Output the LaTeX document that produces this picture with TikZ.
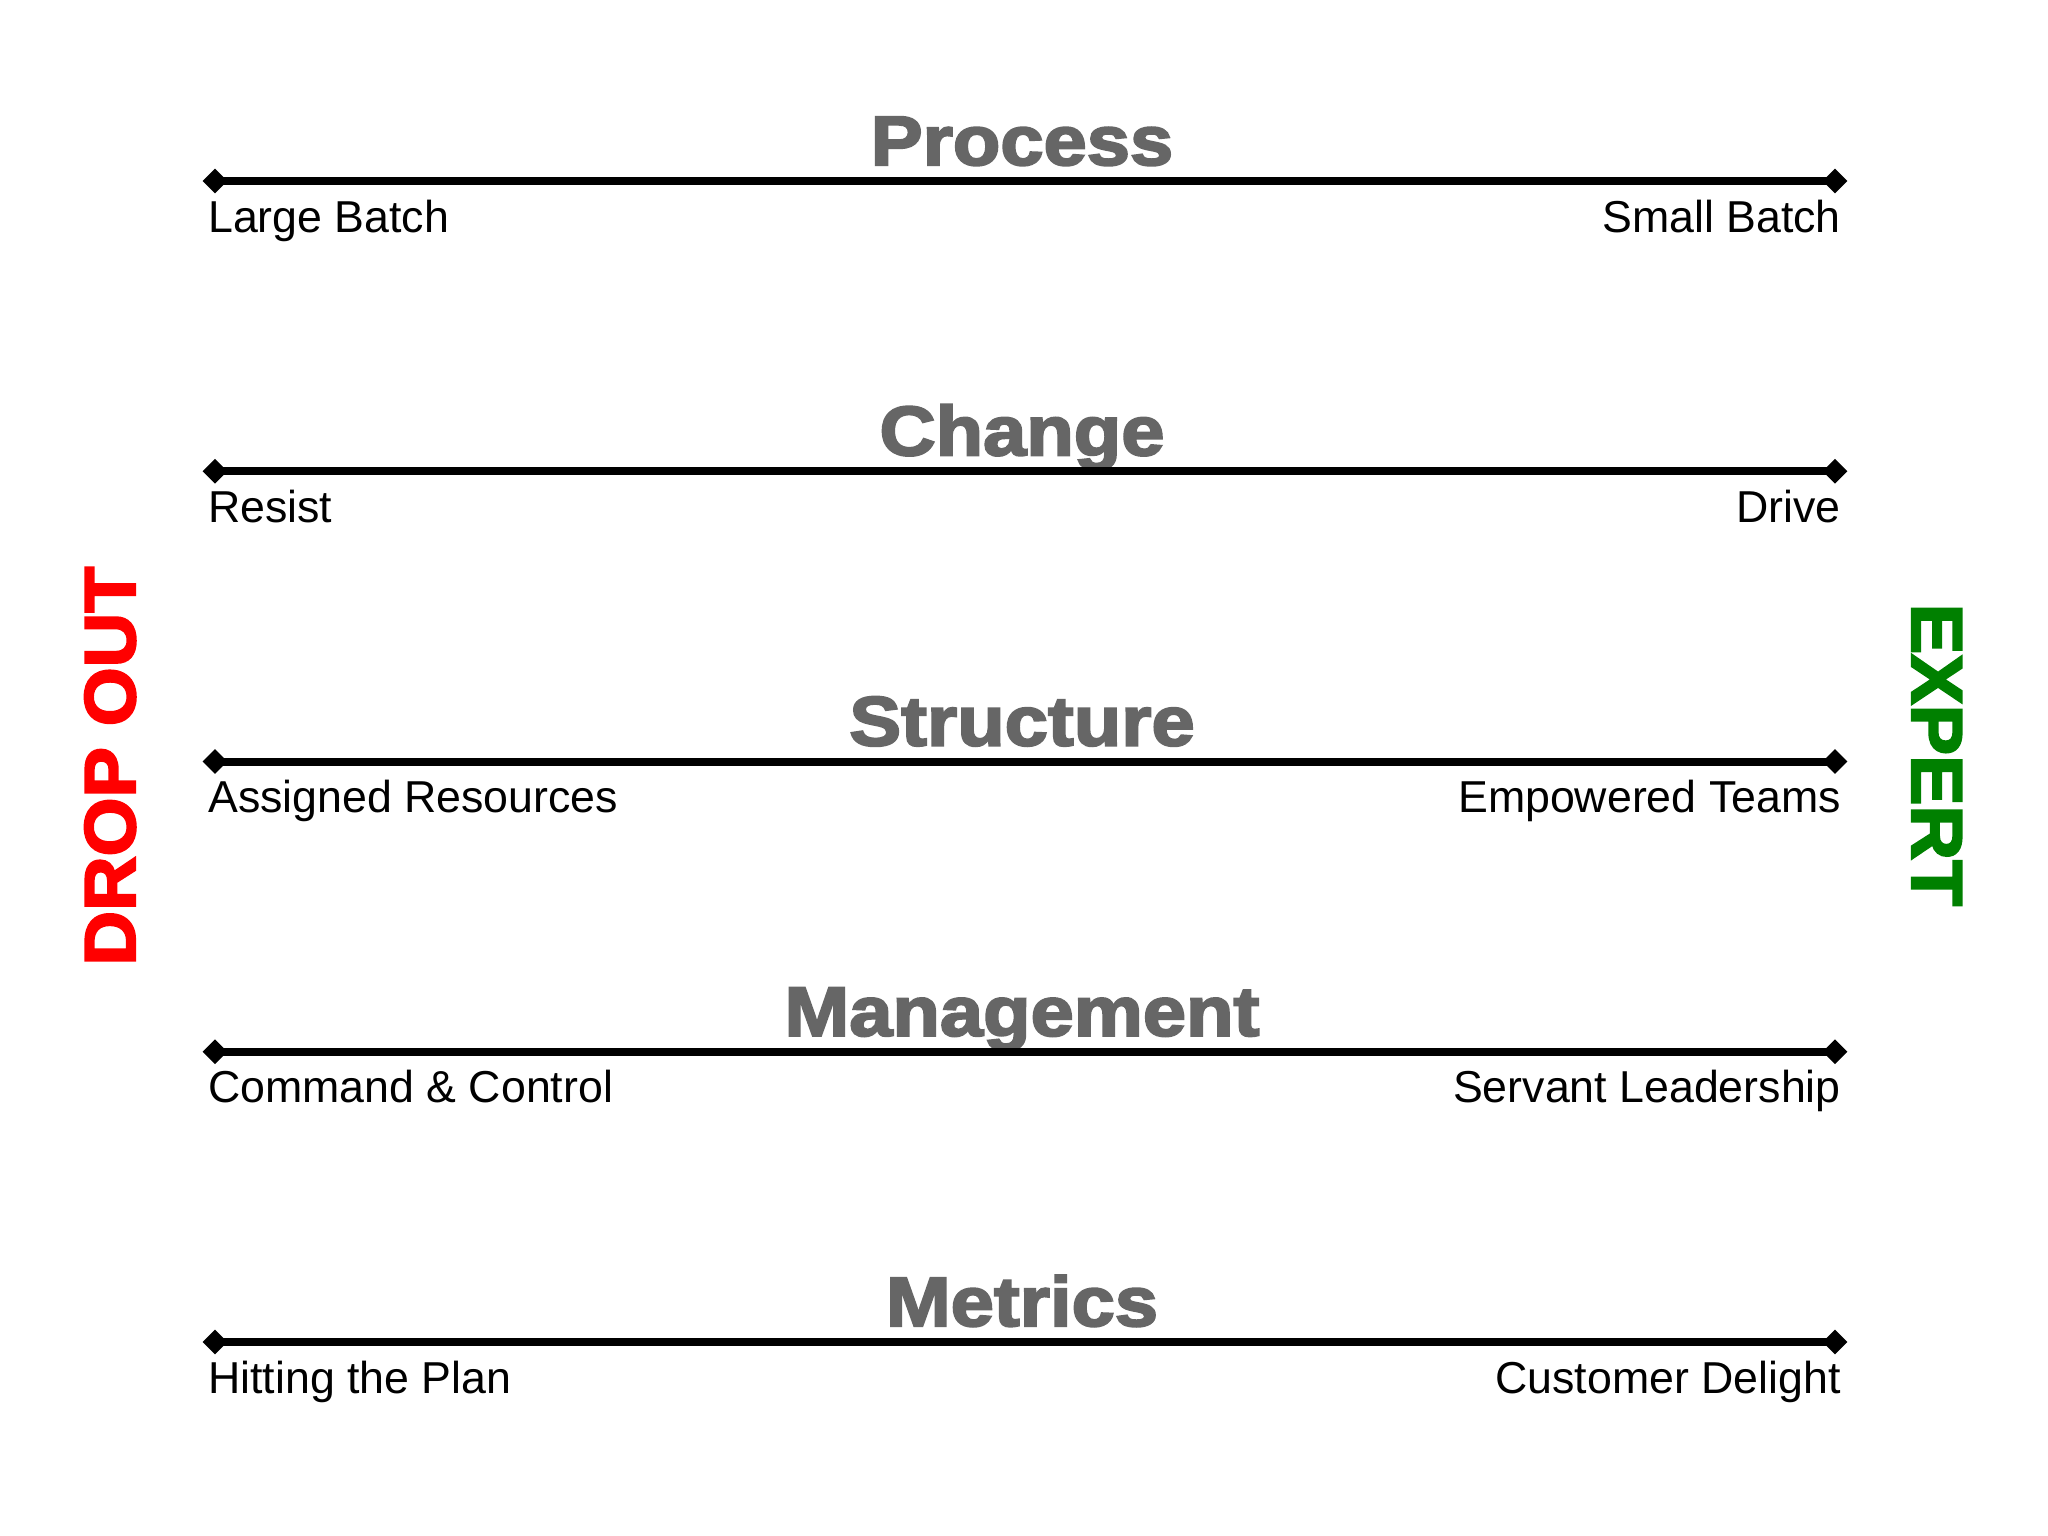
\documentclass[tikz,border=0pt]{standalone}
\usepackage{fontspec}
\setmainfont{Liberation Sans}
\newfontface\headfont{Liberation Sans Bold}[FakeBold=3,FakeStretch=1.11]
\newfontface\sidefont{Liberation Sans Bold}[FakeBold=3,FakeStretch=1.05]
\usetikzlibrary{shapes.geometric}
\definecolor{headgray}{RGB}{102,102,102}
\definecolor{dropred}{RGB}{255,0,0}
\definecolor{expertgreen}{RGB}{0,128,0}
\tikzset{
  endpt/.style={diamond,fill=black,draw=none,minimum size=25pt,inner sep=0pt},
  axisline/.style={line width=8pt,draw=black},
  heading/.style={font=\headfont\fontsize{70}{80}\selectfont,text=headgray,inner sep=0pt,anchor=base},
  leftlab/.style={font=\fontsize{44.7}{50}\selectfont,inner sep=0pt,anchor=base west},
  rightlab/.style={font=\fontsize{44.7}{50}\selectfont,inner sep=0pt,anchor=base east},
  sidelab/.style={font=\sidefont\fontsize{72}{80}\selectfont,inner sep=0pt,anchor=base}
}
\begin{document}
\begin{tikzpicture}[x=1pt,y=-1pt]
\fill[white] (0,0) rectangle (2048,1536);
\useasboundingbox (0,0) rectangle (2048,1536);
\foreach \i/\head/\lft/\rgt in {0/Process/Large Batch/Small Batch,
  1/Change/Resist/Drive,
  2/Structure/Assigned Resources/Empowered Teams,
  3/Management/Command \& Control/Servant Leadership,
  4/Metrics/Hitting the Plan/Customer Delight}{
  \pgfmathsetmacro{\yy}{181+290.25*\i}
  \node[heading] (h\i) at (1022,\yy-16) {\head};
  \node[endpt] (a\i) at (215,\yy) {};
  \node[endpt] (b\i) at (1835,\yy) {};
  \draw[axisline] (a\i.center) -- (b\i.center);
  \node[leftlab] (l\i) at (208,\yy+51) {\lft};
  \node[rightlab] (r\i) at (1841,\yy+51) {\rgt};
}
\node[sidelab,text=dropred,rotate=90] (drop) at (135,766) {DROP OUT};
\node[sidelab,text=expertgreen,rotate=-90] (expert) at (1912,755) {EXPERT};
\end{tikzpicture}
\end{document}
